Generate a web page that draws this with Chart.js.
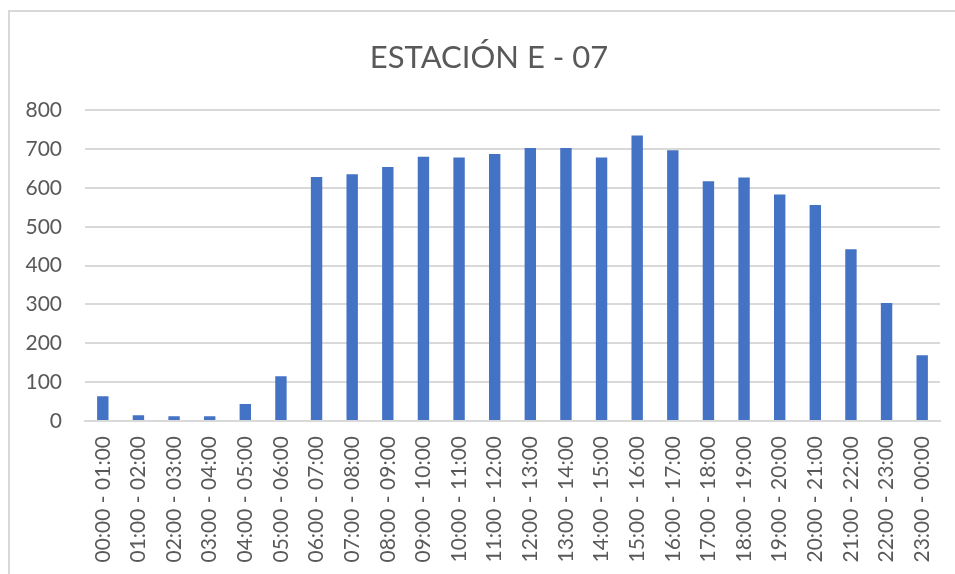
<!DOCTYPE html>
<html lang="es">
<head>
    <meta charset="UTF-8">
    <meta name="viewport" content="width=device-width, initial-scale=1.0">
    <title>Estación E - 07</title>
    <script src="https://cdn.jsdelivr.net/npm/chart.js"></script>
    <style>
        html, body { margin: 0; padding: 0; background: #ffffff; overflow: hidden; }
        #marco {
            position: absolute;
            left: 8px;
            top: 10px;
            width: 947px;
            height: 564px;
            border-left: 2px solid #d9d9d9;
            border-top: 2px solid #d9d9d9;
        }
        #graficoEstacion { display: block; }
    </style>
</head>
<body>
    <div id="marco">
        <canvas id="graficoEstacion" width="945" height="562"></canvas>
    </div>

<script>
    // Franjas horarias y conteo por hora
    var franjas = [
        '00:00 - 01:00', '01:00 - 02:00', '02:00 - 03:00', '03:00 - 04:00',
        '04:00 - 05:00', '05:00 - 06:00', '06:00 - 07:00', '07:00 - 08:00',
        '08:00 - 09:00', '09:00 - 10:00', '10:00 - 11:00', '11:00 - 12:00',
        '12:00 - 13:00', '13:00 - 14:00', '14:00 - 15:00', '15:00 - 16:00',
        '16:00 - 17:00', '17:00 - 18:00', '18:00 - 19:00', '19:00 - 20:00',
        '20:00 - 21:00', '21:00 - 22:00', '22:00 - 23:00', '23:00 - 00:00'
    ];
    var conteo = [
        64, 15, 12, 12, 44, 115, 628, 635, 654, 680, 678, 687,
        703, 703, 678, 735, 697, 617, 627, 583, 556, 442, 304, 169
    ];
    var ejeY = { min: 0, max: 800, paso: 100 };

    var gris = '#595959';
    var lineas = '#d9d9d9';

    // El título va centrado sobre todo el recuadro, no sólo sobre el lienzo
    var centrarTitulo = {
        id: 'centrarTitulo',
        afterLayout: function (chart) {
            if (chart.titleBlock) chart.titleBlock.left += 28;
        }
    };

    var ctx = document.getElementById('graficoEstacion').getContext('2d');
    var grafico = new Chart(ctx, {
        type: 'bar',
        data: {
            labels: franjas,
            datasets: [{
                data: conteo,
                backgroundColor: '#4472c4',
                borderWidth: 0,
                barPercentage: 0.32,
                categoryPercentage: 1
            }]
        },
        options: {
            responsive: false,
            animation: false,
            layout: { padding: { left: 0, right: 15, top: 0, bottom: 0 } },
            plugins: {
                legend: { display: false },
                tooltip: { enabled: false },
                title: {
                    display: true,
                    text: 'ESTACIÓN E - 07',
                    color: gris,
                    font: { family: 'Lato', size: 31, weight: 'normal' },
                    padding: { top: 27, bottom: 34 }
                }
            },
            scales: {
                x: {
                    grid: { display: false, drawTicks: false },
                    border: { display: true, color: lineas, width: 2 },
                    ticks: {
                        color: gris,
                        font: { family: 'Lato', size: 21 },
                        minRotation: 90,
                        maxRotation: 90,
                        autoSkip: false,
                        padding: 15
                    },
                    // altura fija y sin margen lateral extra por las etiquetas giradas
                    afterFit: function (escala) {
                        escala.height = 153;
                        escala.paddingLeft = 0;
                        escala.paddingRight = 0;
                    }
                },
                y: {
                    min: ejeY.min,
                    max: ejeY.max,
                    grid: { color: lineas, lineWidth: 2, drawTicks: false },
                    border: { display: false },
                    ticks: {
                        stepSize: ejeY.paso,
                        color: gris,
                        font: { family: 'Lato', size: 21 },
                        padding: 23
                    },
                    afterFit: function (escala) { escala.width = 75; }
                }
            }
        },
        plugins: [centrarTitulo]
    });
</script>
</body>
</html>
